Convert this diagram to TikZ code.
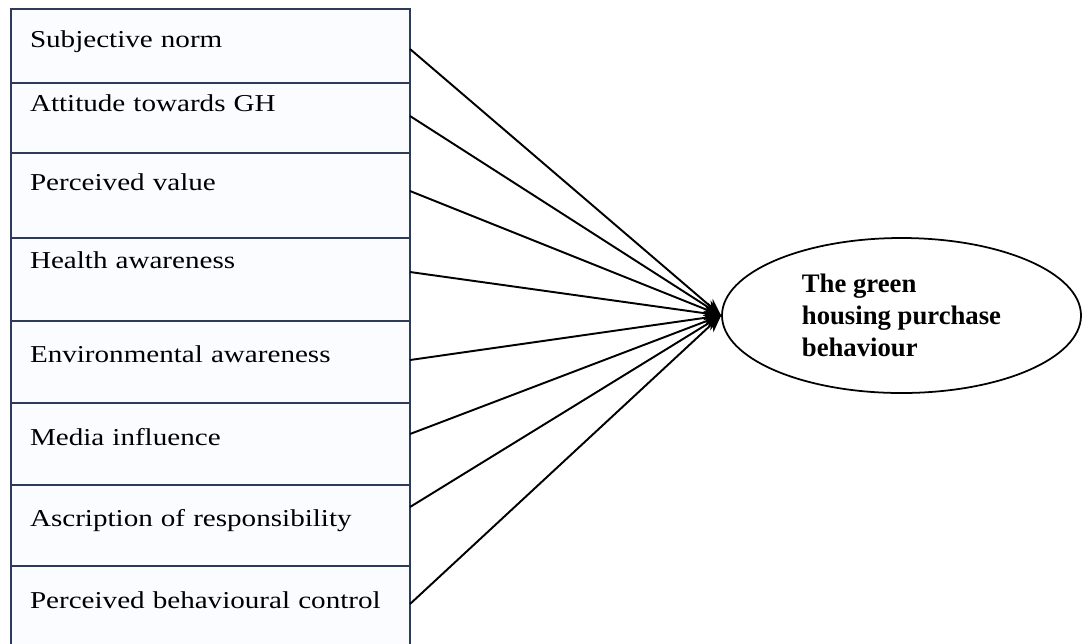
\documentclass[tikz,border=0pt]{standalone}
\usepackage{fontspec}
\setmainfont{Liberation Serif}
\newfontfamily\factorfont{Liberation Serif}[FakeStretch=1.2]
\usetikzlibrary{arrows.meta,positioning,shapes.geometric}
\definecolor{boxline}{HTML}{2E3A59}
\definecolor{boxfill}{HTML}{FBFCFF}

\begin{document}
\begin{tikzpicture}[
factor/.style={draw=boxline,fill=boxfill,line width=1.1pt,text width=7.22cm,
inner xsep=0.38cm,inner ysep=0pt,outer sep=0pt,align=left,
font=\factorfont\fontsize{13.8}{16}\selectfont},
outcome/.style={draw,ellipse,line width=1pt,minimum width=7.18cm,
minimum height=3.1cm,align=left,inner sep=0pt,
font=\bfseries\fontsize{15.2}{18.2}\selectfont},
link/.style={-{Stealth[length=3.4mm,width=2.8mm]},line width=1.1pt},
node distance=0pt]
\useasboundingbox (0,0) rectangle (21.66,-12.86);
% factors, stacked
\node[factor,anchor=north west,text height=0.76cm,text depth=0.72cm] (sn) at (0.22,-0.18) {Subjective norm};
\node[factor,below=of sn,text height=0.56cm,text depth=0.84cm] (att) {Attitude towards GH};
\node[factor,below=of att,text height=0.74cm,text depth=0.96cm] (pv) {Perceived value};
\node[factor,below=of pv,text height=0.60cm,text depth=1.06cm] (ha) {Health awareness};
\node[factor,below=of ha,text height=0.82cm,text depth=0.82cm] (ea) {Environmental awareness};
\node[factor,below=of ea,text height=0.84cm,text depth=0.80cm] (mi) {Media influence};
\node[factor,below=of mi,text height=0.82cm,text depth=0.80cm] (ar) {Ascription of responsibility};
\node[factor,below=of ar,text height=0.84cm,text depth=0.84cm] (pbc) {Perceived behavioural control};
% outcome
\node[outcome] (gh) at (18.03,-6.31) {The green\\housing purchase\\behaviour};
\draw[link] ([yshift=-0.06cm]sn.east) -- (gh.west);
\draw[link] ([yshift=0.04cm]att.east) -- (gh.west);
\draw[link] ([yshift=0.09cm]pv.east) -- (gh.west);
\draw[link] ([yshift=0.15cm]ha.east) -- (gh.west);
\draw[link] ([yshift=0.04cm]ea.east) -- (gh.west);
\draw[link] ([yshift=0.2cm]mi.east) -- (gh.west);
\draw[link] ([yshift=0.37cm]ar.east) -- (gh.west);
\draw[link] ([yshift=0.08cm]pbc.east) -- (gh.west);
\end{tikzpicture}
\end{document}
